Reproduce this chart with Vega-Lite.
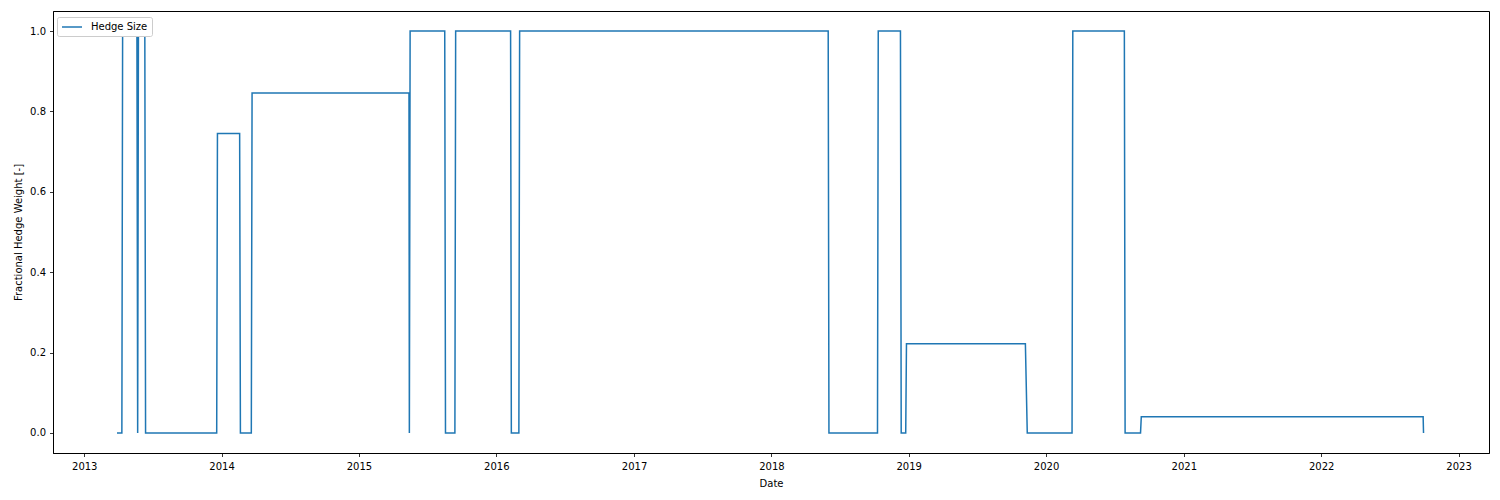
{
  "$schema": "https://vega.github.io/schema/vega-lite/v6.json",
  "autosize": "none",
  "padding": {"left": 53, "top": 11, "right": 11, "bottom": 47},
  "width": 1436,
  "height": 442,
  "background": "white",
  "config": {
    "font": "DejaVu Sans",
    "view": {"stroke": "black", "strokeWidth": 1},
    "axis": {
      "grid": false,
      "domainColor": "black",
      "domainWidth": 1,
      "tickColor": "black",
      "tickSize": 3.5,
      "tickWidth": 0.8,
      "labelColor": "black",
      "labelFont": "DejaVu Sans",
      "labelFontSize": 10,
      "titleFont": "DejaVu Sans",
      "titleFontSize": 10,
      "titleFontWeight": "normal",
      "titleColor": "black"
    },
    "legend": {
      "orient": "none",
      "legendX": 4,
      "legendY": 6,
      "fillColor": "white",
      "strokeColor": "#cccccc",
      "cornerRadius": 2,
      "padding": 4,
      "symbolType": "M-2,0H2",
      "symbolSize": 100,
      "symbolOffset": 5,
      "symbolStrokeWidth": 1.5,
      "labelFont": "DejaVu Sans",
      "labelFontSize": 10,
      "labelColor": "black",
      "labelOffset": 13
    }
  },
  "data": {
    "values": [
      {"date": "2013-03-29", "weight": 0, "series": "Hedge Size"},
      {"date": "2013-04-11", "weight": 0, "series": "Hedge Size"},
      {"date": "2013-04-13", "weight": 1, "series": "Hedge Size"},
      {"date": "2013-05-21", "weight": 1, "series": "Hedge Size"},
      {"date": "2013-05-23", "weight": 0, "series": "Hedge Size"},
      {"date": "2013-05-25", "weight": 1, "series": "Hedge Size"},
      {"date": "2013-06-11", "weight": 1, "series": "Hedge Size"},
      {"date": "2013-06-13", "weight": 0, "series": "Hedge Size"},
      {"date": "2013-12-19", "weight": 0, "series": "Hedge Size"},
      {"date": "2013-12-21", "weight": 0.745, "series": "Hedge Size"},
      {"date": "2014-02-18", "weight": 0.745, "series": "Hedge Size"},
      {"date": "2014-02-20", "weight": 0, "series": "Hedge Size"},
      {"date": "2014-03-21", "weight": 0, "series": "Hedge Size"},
      {"date": "2014-03-23", "weight": 0.846, "series": "Hedge Size"},
      {"date": "2015-05-14", "weight": 0.846, "series": "Hedge Size"},
      {"date": "2015-05-15", "weight": 0, "series": "Hedge Size"},
      {"date": "2015-05-17", "weight": 1, "series": "Hedge Size"},
      {"date": "2015-08-17", "weight": 1, "series": "Hedge Size"},
      {"date": "2015-08-19", "weight": 0, "series": "Hedge Size"},
      {"date": "2015-09-13", "weight": 0, "series": "Hedge Size"},
      {"date": "2015-09-15", "weight": 1, "series": "Hedge Size"},
      {"date": "2016-02-08", "weight": 1, "series": "Hedge Size"},
      {"date": "2016-02-10", "weight": 0, "series": "Hedge Size"},
      {"date": "2016-03-01", "weight": 0, "series": "Hedge Size"},
      {"date": "2016-03-03", "weight": 1, "series": "Hedge Size"},
      {"date": "2018-06-01", "weight": 1, "series": "Hedge Size"},
      {"date": "2018-06-03", "weight": 0, "series": "Hedge Size"},
      {"date": "2018-10-10", "weight": 0, "series": "Hedge Size"},
      {"date": "2018-10-12", "weight": 1, "series": "Hedge Size"},
      {"date": "2018-12-10", "weight": 1, "series": "Hedge Size"},
      {"date": "2018-12-12", "weight": 0, "series": "Hedge Size"},
      {"date": "2018-12-24", "weight": 0, "series": "Hedge Size"},
      {"date": "2018-12-26", "weight": 0.222, "series": "Hedge Size"},
      {"date": "2019-11-07", "weight": 0.222, "series": "Hedge Size"},
      {"date": "2019-11-12", "weight": 0, "series": "Hedge Size"},
      {"date": "2020-03-10", "weight": 0, "series": "Hedge Size"},
      {"date": "2020-03-12", "weight": 1, "series": "Hedge Size"},
      {"date": "2020-07-27", "weight": 1, "series": "Hedge Size"},
      {"date": "2020-07-29", "weight": 0, "series": "Hedge Size"},
      {"date": "2020-09-08", "weight": 0, "series": "Hedge Size"},
      {"date": "2020-09-10", "weight": 0.04, "series": "Hedge Size"},
      {"date": "2022-09-29", "weight": 0.04, "series": "Hedge Size"},
      {"date": "2022-09-30", "weight": 0, "series": "Hedge Size"}
    ]
  },
  "mark": {"type": "line", "strokeWidth": 1.5, "interpolate": "linear", "clip": true},
  "encoding": {
    "x": {
      "field": "date",
      "type": "temporal",
      "title": "Date",
      "scale": {
        "type": "utc",
        "domain": [
          {"year": 2012, "month": 10, "date": 10, "utc": true},
          {"year": 2023, "month": 3, "date": 23, "utc": true}
        ],
        "nice": false
      },
      "axis": {
        "values": [
          {"year": 2013, "month": 1, "date": 1, "utc": true},
          {"year": 2014, "month": 1, "date": 1, "utc": true},
          {"year": 2015, "month": 1, "date": 1, "utc": true},
          {"year": 2016, "month": 1, "date": 1, "utc": true},
          {"year": 2017, "month": 1, "date": 1, "utc": true},
          {"year": 2018, "month": 1, "date": 1, "utc": true},
          {"year": 2019, "month": 1, "date": 1, "utc": true},
          {"year": 2020, "month": 1, "date": 1, "utc": true},
          {"year": 2021, "month": 1, "date": 1, "utc": true},
          {"year": 2022, "month": 1, "date": 1, "utc": true},
          {"year": 2023, "month": 1, "date": 1, "utc": true}
        ],
        "format": "%Y",
        "formatType": "utc",
        "labelPadding": 5,
        "titlePadding": 7,
        "labelFlush": false,
        "labelOverlap": false
      }
    },
    "y": {
      "field": "weight",
      "type": "quantitative",
      "title": "Fractional Hedge Weight [-]",
      "scale": {"domain": [-0.05, 1.05], "nice": false, "zero": false},
      "axis": {
        "values": [0, 0.2, 0.4, 0.6, 0.8, 1.0],
        "format": ".1f",
        "labelPadding": 4,
        "titlePadding": 6
      }
    },
    "color": {
      "field": "series",
      "type": "nominal",
      "scale": {"range": ["#1f77b4"]},
      "legend": {"title": null}
    }
  }
}
